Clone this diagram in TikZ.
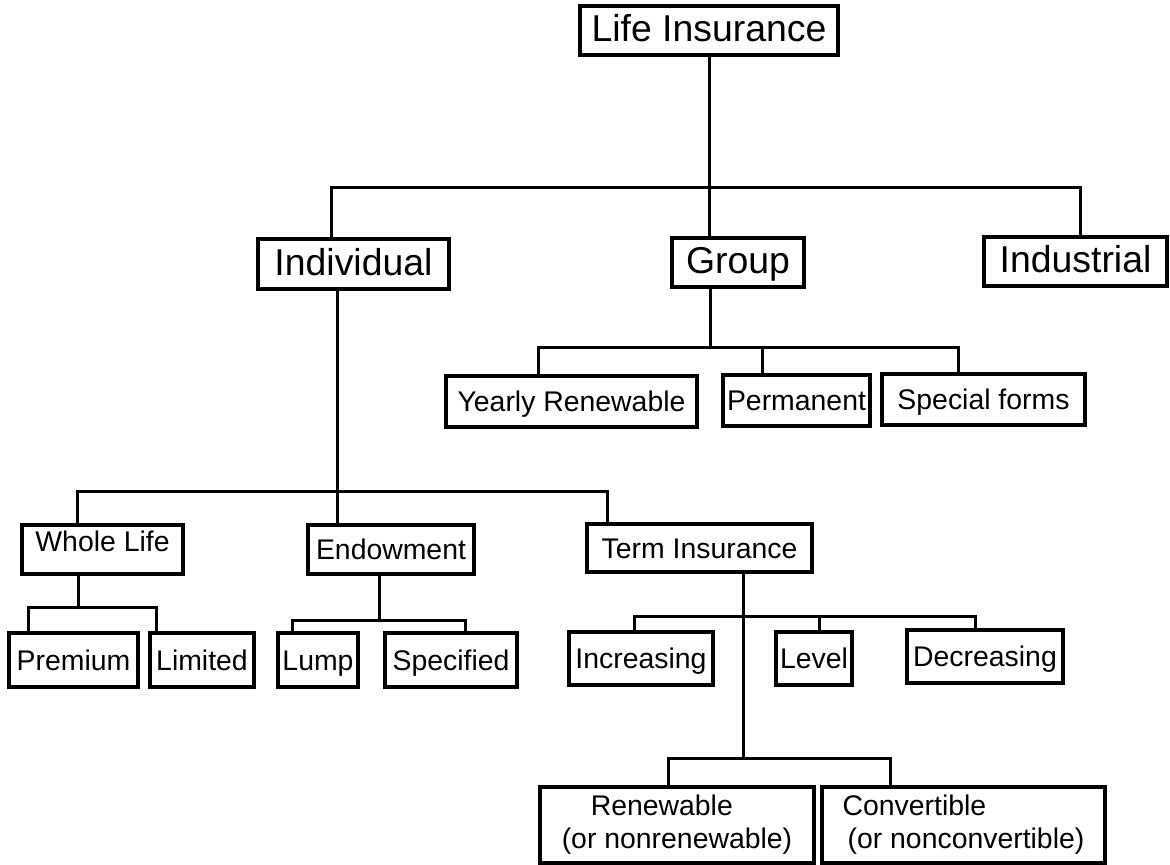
\documentclass[tikz,border=0pt]{standalone}
\usepackage{fontspec}
\setmainfont{Liberation Sans}
\usetikzlibrary{positioning}

\tikzset{
  box/.style={draw,line width=1.6pt,inner sep=0pt,text height=13.6pt,text depth=2.5pt,
    font=\fontsize{18.7}{21}\selectfont},
  smallbox/.style={box,text height=10.4pt,text depth=0pt,font=\fontsize{14.2}{16.5}\selectfont},
  twoline/.style={smallbox,text height=,text depth=,align=left},
  link/.style={line width=1.5pt}
}

\begin{document}
\begin{tikzpicture}[x=0.5pt,y=-0.5pt]

  \useasboundingbox (0,0) rectangle (1170,865);

  % Top levels
  \node[box,minimum width=129pt,minimum height=24.5pt] (life) at (709,30.5) {Life Insurance};
  \node[box,minimum width=95.5pt,minimum height=25pt] (indiv) at (353.5,264) {Individual};
  \node[box,minimum width=66pt,minimum height=24.5pt] (group) at (738,262.5) {Group};
  \node[box,minimum width=91.5pt,minimum height=24.5pt] (indus) at (1075.5,261.5) {Industrial};

  % Group
  \node[smallbox,minimum width=125.5pt,minimum height=25.5pt] (yearly) at (571.5,401.5) {Yearly Renewable};
  \node[smallbox,minimum width=73.5pt,minimum height=25.5pt] (perm) at (796.5,400.5) {Permanent};
  \node[smallbox,minimum width=101.5pt,minimum height=25.5pt] (special) at (983.5,399.5) {Special forms};

  % Individual
  \node[smallbox,minimum width=80.5pt,minimum height=24.5pt,text depth=8pt] (whole) at (102.5,549.5) {Whole Life};
  \node[smallbox,minimum width=83pt,minimum height=24.5pt] (endow) at (391,549.5) {Endowment};
  \node[smallbox,minimum width=112.5pt,minimum height=24pt] (term) at (699.5,548) {Term Insurance};

  \node[smallbox,minimum width=64.5pt,minimum height=27pt] (premium) at (73.5,660) {Premium};
  \node[smallbox,minimum width=52pt,minimum height=27pt] (limited) at (202,660) {Limited};
  \node[smallbox,minimum width=40pt,minimum height=27pt] (lump) at (318,660) {Lump};
  \node[smallbox,minimum width=66pt,minimum height=27pt] (specified) at (451,660) {Specified};

  \node[smallbox,minimum width=72pt,minimum height=26.5pt] (increasing) at (641,658.5) {Increasing};
  \node[smallbox,minimum width=38pt,minimum height=26.5pt] (level) at (814,658.5) {Level};
  \node[smallbox,minimum width=78pt,minimum height=26.5pt] (decreasing) at (985,656.5) {Decreasing};

  \node[twoline,minimum width=137pt,minimum height=38pt] (renew) at (677,825) {\hspace{14.5pt}Renewable\\(or nonrenewable)};
  \node[twoline,minimum width=141.5pt,minimum height=38pt] (convert) at (963.5,825) {Convertible\\\hspace{2.5pt}(or nonconvertible)};

  % Buses
  \coordinate (m1) at (331,188);
  \coordinate (m2) at (1080,188);
  \draw[link] (indiv.north -| m1) -- (m1) -- (m2) -- (indus.north -| m2);
  \draw[link] (life.south) -- (life.south |- group.north);

  \coordinate (g0) at (710,348);
  \coordinate (g1) at (538,348);
  \coordinate (g2) at (762,348);
  \coordinate (g3) at (958,348);
  \draw[link] (group.south -| g0) -- (g0);
  \draw[link] (yearly.north -| g1) -- (g1) -- (g3) -- (special.north -| g3);
  \draw[link] (g2) -- (perm.north -| g2);

  \coordinate (i0) at (337,491);
  \coordinate (i1) at (77,491);
  \coordinate (i2) at (607,491);
  \draw[link] (indiv.south -| i0) -- (endow.north -| i0);
  \draw[link] (whole.north -| i1) -- (i1) -- (i2) -- (term.north -| i2);

  \coordinate (w0) at (78,607);
  \coordinate (w1) at (28,607);
  \coordinate (w2) at (156,607);
  \draw[link] (whole.south -| w0) -- (w0);
  \draw[link] (premium.north -| w1) -- (w1) -- (w2) -- (limited.north -| w2);

  \coordinate (e0) at (379,620);
  \coordinate (e1) at (292,620);
  \coordinate (e2) at (465,620);
  \draw[link] (endow.south -| e0) -- (e0);
  \draw[link] (lump.north -| e1) -- (e1) -- (e2) -- (specified.north -| e2);

  \coordinate (t0) at (743,616);
  \coordinate (t1) at (634,616);
  \coordinate (t2) at (819,616);
  \coordinate (t3) at (975,616);
  \coordinate (t4) at (743,758);
  \coordinate (t5) at (668,758);
  \coordinate (t6) at (890,758);
  \draw[link] (term.south -| t0) -- (t4);
  \draw[link] (increasing.north -| t1) -- (t1) -- (t3) -- (decreasing.north -| t3);
  \draw[link] (t2) -- (level.north -| t2);
  \draw[link] (renew.north -| t5) -- (t5) -- (t6) -- (convert.north -| t6);

\end{tikzpicture}
\end{document}
